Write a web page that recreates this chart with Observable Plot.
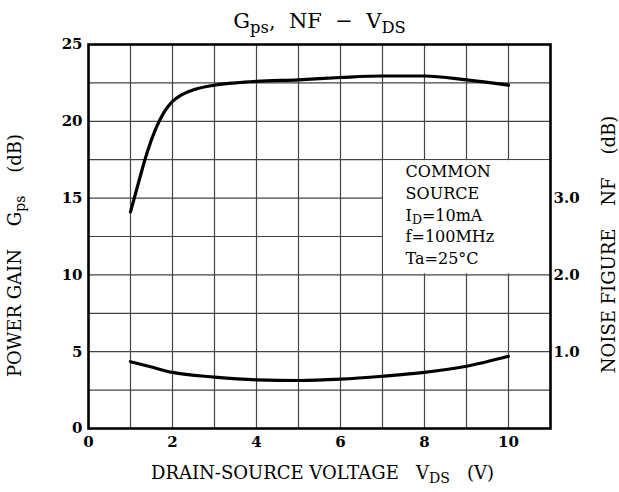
<!DOCTYPE html>
<html>
<head>
<meta charset="utf-8">
<script src="https://cdn.jsdelivr.net/npm/d3@7"></script>
<script src="https://cdn.jsdelivr.net/npm/@observablehq/plot@0.6"></script>
<style>
  html, body { margin: 0; padding: 0; background: white; }
  svg { display: block; }
</style>
</head>
<body>
<div id="chart"></div>
<script>
// ---- data ----
const vdsGps = [1, 1.2, 1.4, 1.6, 1.8, 2.0, 2.2, 2.5, 3, 3.5, 4, 5, 6, 7, 8, 9, 10];
const gps    = [14.1, 16.1, 18.0, 19.5, 20.6, 21.3, 21.7, 22.05, 22.35, 22.5, 22.6, 22.7, 22.85, 22.95, 22.95, 22.7, 22.35];
const vdsNf  = [1, 1.5, 2, 3, 4, 5, 6, 7, 8, 9, 10];
const nf     = [0.87, 0.8, 0.73, 0.67, 0.634, 0.625, 0.642, 0.68, 0.73, 0.81, 0.94];

const xTicks   = [0, 2, 4, 6, 8, 10];
const gpsTicks = [0, 5, 10, 15, 20, 25];
const nfTicks  = [1.0, 2.0, 3.0];
const xGrid    = [1, 2, 3, 4, 5, 6, 7, 8, 9, 10];
const yGrid    = [2.5, 5, 7.5, 10, 12.5, 15, 17.5, 20, 22.5];

const sp = "\u00a0";
const titleText = `G_{ps},${sp} NF${sp} \u2212${sp} V_{DS}`;
const xLabel = `DRAIN-SOURCE VOLTAGE${sp}${sp} V_{DS}${sp}${sp} (V)`;
const yLabel = `POWER GAIN${sp}${sp}${sp} G_{ps}${sp}${sp}${sp} (dB)`;
const y2Label = `NOISE FIGURE${sp}${sp}${sp} NF${sp}${sp}${sp} (dB)`;
const noteLines = ["COMMON", "SOURCE", "I_{D}=10mA", "f=100MHz", "Ta=25\u00b0C"];

// NF axis: 1.0 dB corresponds to 5 dB of gain on the shared vertical scale
const NF_TO_GPS = 5;

const gpsData = vdsGps.map((v, i) => ({v, g: gps[i]}));
const nfData = vdsNf.map((v, i) => ({v, g: nf[i] * NF_TO_GPS}));

const font = "DejaVu Serif";

const chart = Plot.plot({
  width: 619,
  height: 492,
  marginLeft: 88,
  marginRight: 69,
  marginTop: 44,
  marginBottom: 64,
  x: {domain: [0, 11]},
  y: {domain: [0, 25]},
  style: {fontFamily: font, fontSize: "15px", color: "black", background: "white"},
  marks: [
    Plot.ruleX(xGrid, {stroke: "#444", strokeWidth: 1.2}),
    Plot.ruleY(yGrid, {stroke: "#444", strokeWidth: 1.2}),
    Plot.rect([{x1: 7, x2: 11, y1: 10, y2: 17.5}], {x1: "x1", x2: "x2", y1: "y1", y2: "y2", fill: "white", insetTop: 1, insetBottom: 1, insetLeft: 1}),
    Plot.frame({stroke: "black", strokeWidth: 2.6}),
    Plot.line(gpsData, {x: "v", y: "g", curve: "monotone-x", stroke: "black", strokeWidth: 3.2}),
    Plot.line(nfData, {x: "v", y: "g", curve: "monotone-x", stroke: "black", strokeWidth: 3.2}),
    Plot.axisX(xTicks, {tickSize: 0, tickPadding: 8, fontSize: 15, fontWeight: "bold", label: null}),
    Plot.axisY(gpsTicks, {anchor: "left", tickSize: 0, tickPadding: 6, fontSize: 15, fontWeight: "bold", label: null}),
    Plot.axisY(nfTicks.map(d => d * NF_TO_GPS), {anchor: "right", tickSize: 0, tickPadding: 3, fontSize: 15, fontWeight: "bold", label: null,
      tickFormat: d => (d / NF_TO_GPS).toFixed(1)}),
    Plot.text([noteLines.join("\n")], {x: 7.55, y: 17.35, text: d => d, textAnchor: "start", lineAnchor: "top",
      lineHeight: 1.35, fontSize: 16}),
    Plot.text([titleText], {frameAnchor: "top", dy: -31, dx: 0, text: d => d, fontSize: 21}),
    Plot.text([xLabel], {frameAnchor: "bottom", dy: 50, dx: 3, text: d => d, fontSize: 18}),
    Plot.text([yLabel], {frameAnchor: "left", textAnchor: "middle", dx: -73, dy: 19, rotate: -90, text: d => d, fontSize: 18}),
    Plot.text([y2Label], {frameAnchor: "right", textAnchor: "middle", dx: 59, dy: 8, rotate: -90, text: d => d, fontSize: 18})
  ]
});

// turn "_{...}" markers into real subscript tspans
function richify(el) {
  const str = el.textContent;
  const parts = str.split(/(_\{[^}]*\})/).filter(p => p.length);
  el.textContent = "";
  let prevSub = false;
  for (const p of parts) {
    const t = document.createElementNS("http://www.w3.org/2000/svg", "tspan");
    const m = p.match(/^_\{([^}]*)\}$/);
    if (m) {
      t.textContent = m[1];
      t.setAttribute("font-size", "78%");
      t.setAttribute("dy", "0.3em");
      prevSub = true;
    } else {
      t.textContent = p;
      if (prevSub) t.setAttribute("dy", "-0.234em");
      prevSub = false;
    }
    el.appendChild(t);
  }
}
chart.querySelectorAll("text, tspan").forEach(el => {
  if (el.children.length === 0 && el.textContent.includes("_{")) richify(el);
});

document.getElementById("chart").appendChild(chart);
</script>
</body>
</html>
